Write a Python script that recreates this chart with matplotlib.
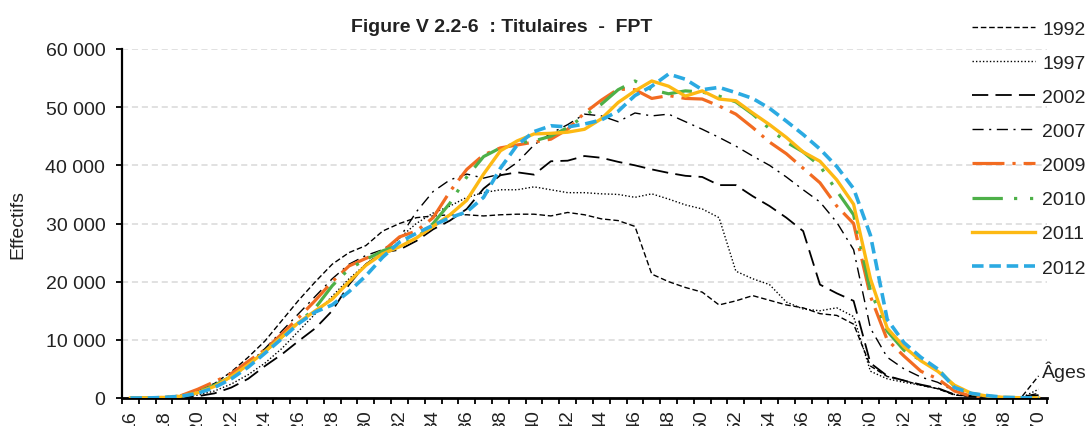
import matplotlib
matplotlib.use("Agg")
import matplotlib.pyplot as plt
from matplotlib.ticker import FuncFormatter

plt.rcParams['font.family'] = ['Liberation Sans', 'DejaVu Sans']

ages = list(range(16, 71))

y1992 = [0, 50, 200, 500,
         1300, 2500, 4500, 7000, 9800, 13300, 16800, 20000, 23000, 25000,
         26200, 28700, 30000, 31000, 31300, 31500, 31500, 31300, 31500, 31600,
         31600, 31300, 31900, 31500, 30800, 30500, 29500, 21300, 20000, 19000,
         18200, 16000, 16700, 17600, 16800, 16000, 15500, 14500, 14200, 12700,
         5500, 3700, 3000, 2200, 1600, 500, 300, 300, 200, 200,
         3800]
y1997 = [0, 0, 100, 200,
         500, 1200, 2400, 4000, 6000, 8500, 11500, 14500, 17500, 20500,
         23000, 25000, 27500, 30000, 31800, 33000, 34500, 35300, 35800, 35800,
         36300, 35800, 35300, 35300, 35100, 35000, 34500, 35100, 34200, 33200,
         32500, 31000, 21800, 20500, 19500, 16500, 15300, 15000, 15500, 14000,
         4600, 3300, 2700, 2200, 1600, 600, 300, 200, 100, 100,
         1500]
y2002 = [0, 0, 0, 100,
         300, 800, 1800, 3300, 5500, 7500, 9800, 12000, 15000, 19500,
         23000, 25000, 25500, 27000, 29000, 30500, 32500, 36000, 38300, 38800,
         38400, 40700, 40800, 41600, 41300, 40600, 40000, 39300, 38700, 38200,
         38000, 36600, 36600, 34700, 33000, 31000, 28700, 19500, 18000, 16700,
         6000, 3800, 3000, 2300, 1700, 600, 300, 200, 200, 100,
         500]
y2007 = [0, 0, 100, 300,
         1000, 2200, 3800, 5800, 8500, 11500, 14500, 17500, 20500, 23000,
         24500, 25500, 27500, 32000, 35500, 37500, 38500, 37800, 38500, 40500,
         43500, 45500, 47000, 48800, 48500, 47500, 49000, 48500, 48800, 47500,
         46200, 44800, 43300, 41600, 40000, 38000, 35800, 33700, 30200, 25500,
         12000, 7000, 5000, 3600, 2700, 1200, 400, 300, 200, 200,
         800]
y2009 = [0, 0, 100, 400,
         1500, 2800, 4200, 6300, 8300, 11000, 13800, 16800, 20000, 22700,
         24000, 25200, 27700, 28700, 31000, 35500, 39300, 41800, 43000, 43500,
         44000, 44500, 46200, 49000, 51200, 53100, 53000, 51500, 52000, 51500,
         51400, 50200, 48800, 46500, 44000, 42000, 39500, 37000, 33000, 30000,
         17500, 10000, 7200, 4600, 3300, 1200, 300, 100, 50, 50,
         0]
y2010 = [0, 0, 100, 300,
         1000, 2200, 3700, 5700, 8000, 10500, 13000, 15500, 19300, 22200,
         23800, 25300, 26300, 27500, 30000, 33500, 38000, 41500, 43000, 43800,
         44200, 45000, 46500, 48500, 50500, 53000, 54500, 53000, 52300, 52800,
         52600, 51900, 50900, 48800, 46300, 44000, 42300, 39900, 35600, 31500,
         18500, 11500, 8200, 6500, 5000, 2000, 700, 300, 100, 50,
         0]
y2011 = [0, 0, 100, 300,
         900, 2000, 3700, 5700, 8000, 10500, 13000, 15000, 17000, 20000,
         22800, 24800, 26000, 27500, 29500, 31500, 34000, 38500, 42500, 44200,
         45400, 45500, 45700, 46200, 48000, 50800, 52800, 54500, 53600, 51900,
         52800, 51400, 51100, 49000, 47000, 44800, 42300, 40700, 37500, 33300,
         20500, 12000, 8800, 6400, 4600, 2200, 800, 300, 100, 50,
         0]
y2012 = [0, 0, 100, 300,
         800, 1800, 3300, 5300, 7700, 10200, 12800, 14800, 16000, 18300,
         21000, 24200, 26800, 28300, 29700, 31000, 32000, 34500, 39500, 43500,
         45800, 46800, 46600, 47100, 47800, 49300, 52000, 53600, 55700, 54800,
         53000, 53400, 52500, 51500, 49800, 47600, 45300, 42800, 39800, 36000,
         28000, 13500, 9500, 7000, 5000, 1800, 800, 400, 100, 50,
         0]

series = [
    ("1992", y1992, "black", 1.0, (4, 2)),
    ("1997", y1997, "black", 1.0, (1, 1.5)),
    ("2002", y2002, "black", 1.3, (9, 4)),
    ("2007", y2007, "black", 1.0, (8, 4, 1.5, 4)),
    ("2009", y2009, "#F26B21", 2.3, (10, 2.5, 1, 2.5)),
    ("2010", y2010, "#4DB048", 2.3, (9.5, 3.5, 1, 4, 1, 3.5)),
    ("2011", y2011, "#FDB913", 2.4, None),
    ("2012", y2012, "#2BAAE2", 2.6, (3.2, 1.6)),
]

fig = plt.figure(figsize=(10.87, 4.27), dpi=100)
ax = fig.add_axes([122 / 1087, 28 / 427, 925 / 1087, 349 / 427])

x = list(range(len(ages)))
handles = []
for label, vals, col, lw, dash in series:
    line, = ax.plot(x, vals, color=col, lw=lw, label=label, zorder=3)
    if dash is not None:
        line.set_dashes(dash)
    handles.append(line)

ax.set_xlim(-0.5, len(ages) - 0.5)
ax.set_ylim(0, 60000)
ax.set_yticks(range(0, 60001, 10000))
ax.yaxis.set_major_formatter(FuncFormatter(lambda v, p: f"{int(v):,}".replace(",", " ")))
ax.grid(axis='y', color='#D9D9D9', lw=1.1, linestyle=(0, (4, 2.5)), zorder=0)
ax.set_axisbelow(True)

ax.set_xticks([i for i, a in enumerate(ages) if a % 2 == 0])
ax.set_xticklabels([str(a) for a in ages if a % 2 == 0], rotation=90)
ax.set_xticks([i - 0.5 for i in range(len(ages) + 1)], minor=True)
ax.tick_params(axis='x', which='major', length=0, pad=8, labelsize=14, colors='#222222')
ax.tick_params(axis='x', which='minor', length=4, width=1.3, direction='out')
ax.tick_params(axis='y', length=4, width=1.3, pad=8, labelsize=14, labelcolor='#222222')

for s in ['top', 'right']:
    ax.spines[s].set_visible(False)
ax.spines['left'].set_linewidth(1.6)
ax.spines['bottom'].set_linewidth(2.0)

ax.set_ylabel("Effectifs", fontsize=14, color='#222222', labelpad=14)

fig.text(502 / 1087, 1 - 27 / 427, "Figure V 2.2-6  : Titulaires  -  FPT",
         ha='center', va='center', fontsize=14, fontweight='bold', color='#222222')
fig.text(1042 / 1087, 1 - 372 / 427, "Âges", ha='left', va='center',
         fontsize=14, color='#222222')

fig.legend(handles=handles, loc='upper left', bbox_to_anchor=(972 / 1087, 1 - 21 / 427),
           frameon=False, fontsize=14, handlelength=3.25, handletextpad=0.35,
           labelspacing=0.85, borderpad=0, borderaxespad=0, labelcolor='#222222')

fig.savefig("out.png", dpi=100)
